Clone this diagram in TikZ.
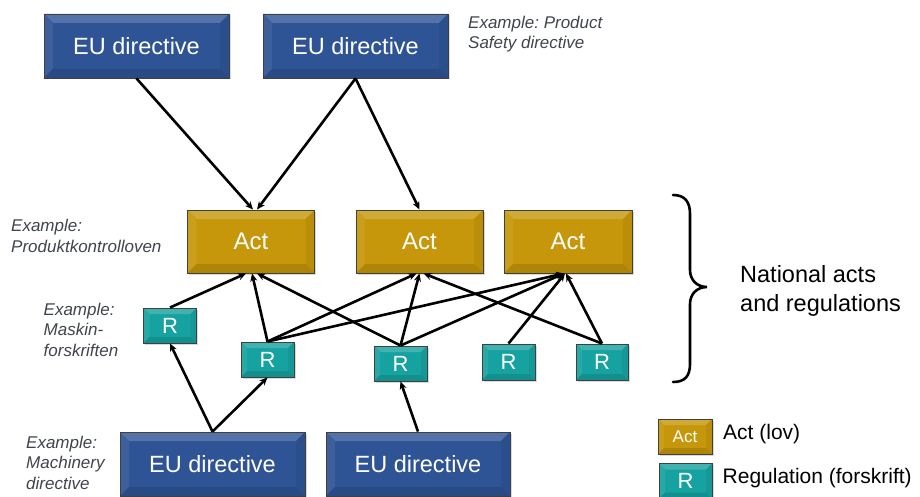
\documentclass[tikz,border=0pt]{standalone}
\usepackage{fontspec}
\setmainfont{Liberation Sans}
\frenchspacing
\usetikzlibrary{arrows.meta,shadows}
\definecolor{eublue}{RGB}{46,84,150}
\definecolor{actgold}{RGB}{198,151,10}
\definecolor{regteal}{RGB}{22,162,160}
\definecolor{exgray}{RGB}{64,68,76}
\tikzset{
  bev/.style n args={2}{fill=#1, draw=black!75, line width=0.9pt, inner sep=0pt, text=white,
    drop shadow={shadow xshift=1.5pt, shadow yshift=-1.5pt, opacity=0.3},
    path picture={
      \fill[#1!82!white] (path picture bounding box.north west) -- (path picture bounding box.north east) -- ([xshift=-#2,yshift=-#2]path picture bounding box.north east) -- ([xshift=#2,yshift=-#2]path picture bounding box.north west) -- cycle;
      \fill[#1!93!white] (path picture bounding box.north west) -- ([xshift=#2,yshift=-#2]path picture bounding box.north west) -- ([xshift=#2,yshift=#2]path picture bounding box.south west) -- (path picture bounding box.south west) -- cycle;
      \fill[#1!94!black] (path picture bounding box.north east) -- ([xshift=-#2,yshift=-#2]path picture bounding box.north east) -- ([xshift=-#2,yshift=#2]path picture bounding box.south east) -- (path picture bounding box.south east) -- cycle;
      \fill[#1!88!black] (path picture bounding box.south west) -- ([xshift=#2,yshift=#2]path picture bounding box.south west) -- ([xshift=-#2,yshift=#2]path picture bounding box.south east) -- (path picture bounding box.south east) -- cycle;
    }},
  eu/.style={bev={eublue}{9pt}, minimum width=185pt, minimum height=64pt, font=\fontsize{23.5}{27}\selectfont},
  act/.style={bev={actgold}{9pt}, minimum width=127pt, minimum height=63pt, font=\fontsize{24}{28}\selectfont},
  reg/.style={bev={regteal}{6pt}, minimum width=53pt, minimum height=35pt, font=\fontsize{22}{26}\selectfont},
  ex/.style={anchor=north west, inner sep=0pt, align=left, text=exgray, font=\fontsize{17}{20.5}\selectfont\itshape},
  arr/.style={-{Stealth[length=8pt,width=7pt]}, line width=2.6pt, black},
}
\begin{document}
\begin{tikzpicture}[x=1pt,y=-1pt]
\useasboundingbox (0,0) rectangle (920,497);
% top directives
\node[eu] (eu1) at (136.5,46) {EU directive};
\node[eu] (eu2) at (355.5,46) {EU directive};
% acts
\node[act] (act1) at (251,241.5) {Act};
\node[act] (act2) at (419.5,241.5) {Act};
\node[act, minimum width=128pt] (act3) at (568,241.5) {Act};
% regulations
\node[reg] (r1) at (170,325.5) {R};
\node[reg] (r2) at (267.5,359.5) {R};
\node[reg] (r3) at (400.5,363.5) {R};
\node[reg, minimum height=36pt] (r4) at (508.5,362) {R};
\node[reg, minimum height=36pt, minimum width=52pt] (r5) at (602,362) {R};
% bottom directives
\node[eu] (eub1) at (212.5,464) {EU directive};
\node[eu, minimum width=184pt] (eub2) at (418,464) {EU directive};
% legend
\node[bev={actgold}{6pt}, minimum width=54pt, minimum height=35pt, font=\fontsize{17}{20}\selectfont] (lact) at (685,436.5) {Act};
\node[reg] (lreg) at (685.5,481) {R};
\node[anchor=base west, inner sep=0pt, font=\fontsize{21}{25}\selectfont] (lacttxt) at (723,439) {Act (lov)};
\node[anchor=base west, inner sep=0pt, font=\fontsize{21}{25}\selectfont] (lregtxt) at (722.5,483.5) {Regulation (forskrift)};
% example labels
\node[ex] (exprod) at (468,15.5) {Example: Product\\Safety directive};
\node[ex, font=\fontsize{17}{21.5}\selectfont\itshape] (exkontroll) at (11,218.5) {Example:\\Produktkontrolloven};
\node[ex] (exmaskin) at (43.5,302.5) {Example:\\Maskin-\\forskriften};
\node[ex] (exmach) at (26,435.5) {Example:\\Machinery\\directive};
% national label and brace
\node[anchor=north west, inner sep=0pt, align=left, font=\fontsize{23.5}{28.5}\selectfont] (natl) at (740,265.5) {National acts\\and regulations};
\draw[line width=2.6pt, line cap=round] (673,195) .. controls (685,195) and (690,202) .. (690,214) -- (690,270) .. controls (690,280) and (697,287) .. (707,287) .. controls (697,287) and (690,294) .. (690,304) -- (690,364) .. controls (690,376) and (685,382) .. (673,382);
% connectors: directives to acts
\draw[arr] (eu1.south) -- ([xshift=2pt]act1.north);
\draw[arr] (eu2.south) -- ([xshift=6pt]act1.north);
\draw[arr] (eu2.south) -- (act2.north);
% regulations to acts
\draw[arr] (r1.north) -- ([xshift=-5pt]act1.south);
\draw[arr] (r2.north) -- ([xshift=1pt]act1.south);
\draw[arr] (r3.north) -- ([xshift=6pt]act1.south);
\draw[arr] (r2.north) -- ([xshift=-3pt]act2.south);
\draw[arr] (r3.north) -- (act2.south);
\draw[arr] (r5.north) -- ([xshift=4pt]act2.south);
\draw[arr] (r2.north) -- ([xshift=-4pt]act3.south);
\draw[arr] (r3.north) -- ([xshift=-4pt]act3.south);
\draw[arr] (r4.north) -- ([xshift=-3pt]act3.south);
\draw[arr] (r5.north) -- ([xshift=-2pt]act3.south);
% directives to regulations
\draw[arr] (eub1.north) -- (r1.south);
\draw[arr] (eub1.north) -- (r2.south);
\draw[arr] (eub2.north) -- (r3.south);
\end{tikzpicture}
\end{document}
